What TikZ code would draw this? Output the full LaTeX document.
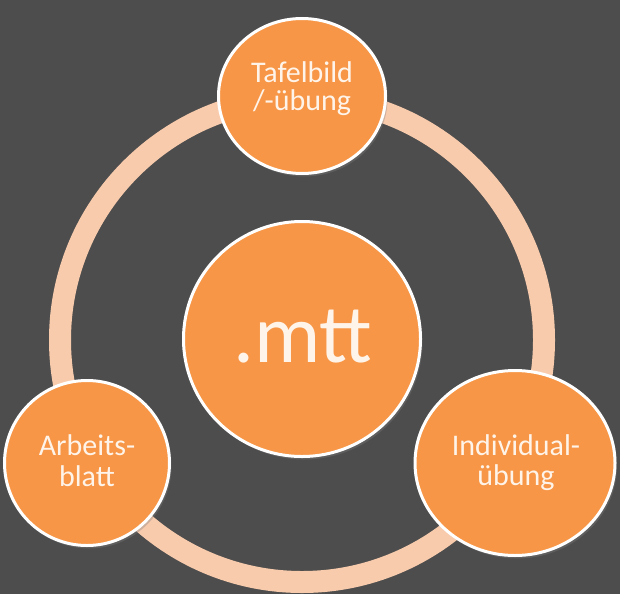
\documentclass[tikz,border=0pt]{standalone}
\usepackage{fontspec}
\setmainfont{Carlito}
\usetikzlibrary{shapes.geometric,shadows}
\definecolor{bgc}{HTML}{4D4D4D}
\definecolor{orangeF}{HTML}{F79646}
\definecolor{ringc}{HTML}{F9CBAD}
\definecolor{txtc}{HTML}{FFF4EA}
\tikzset{
  bubble/.style={ellipse, draw=white, line width=3pt, fill=orangeF, inner sep=0pt,
    drop shadow={opacity=0.35, shadow xshift=2pt, shadow yshift=-3pt}},
  lbl/.style={text=txtc, align=center, inner sep=0pt},
  ringline/.style={draw=ringc, line width=22pt}
}
\begin{document}
\begin{tikzpicture}[x=1pt,y=-1pt]
\fill[bgc] (0,0) rectangle (620,594);
\useasboundingbox (0,0) rectangle (620,594);
\coordinate (rc) at (302,340);
\draw[ringline] (rc) circle (242);
% circles
\node[bubble, minimum width=237pt, minimum height=235pt] (mtt) at (302,339) {};
\node[bubble, minimum width=167pt, minimum height=155pt] (tafel) at (302,96) {};
\node[bubble, minimum width=165pt, minimum height=165pt] (arbeit) at (87,463) {};
\node[bubble, minimum width=200pt, minimum height=185pt] (indiv) at (515,463) {};
% texts
\node[lbl, font=\fontsize{83}{85}\selectfont] (tmtt) at (303,337) {.mtt};
\node[lbl, font=\fontsize{30}{28}\selectfont] (ttafel) at (302,89) {Tafelbild\\/-übung};
\node[lbl, font=\fontsize{30}{31}\selectfont] (tarbeit) at (87,460.5) {Arbeits-\\blatt};
\node[lbl, font=\fontsize{30}{30}\selectfont] (tindiv) at (516,463) {Individual-\\übung};
\end{tikzpicture}
\end{document}
